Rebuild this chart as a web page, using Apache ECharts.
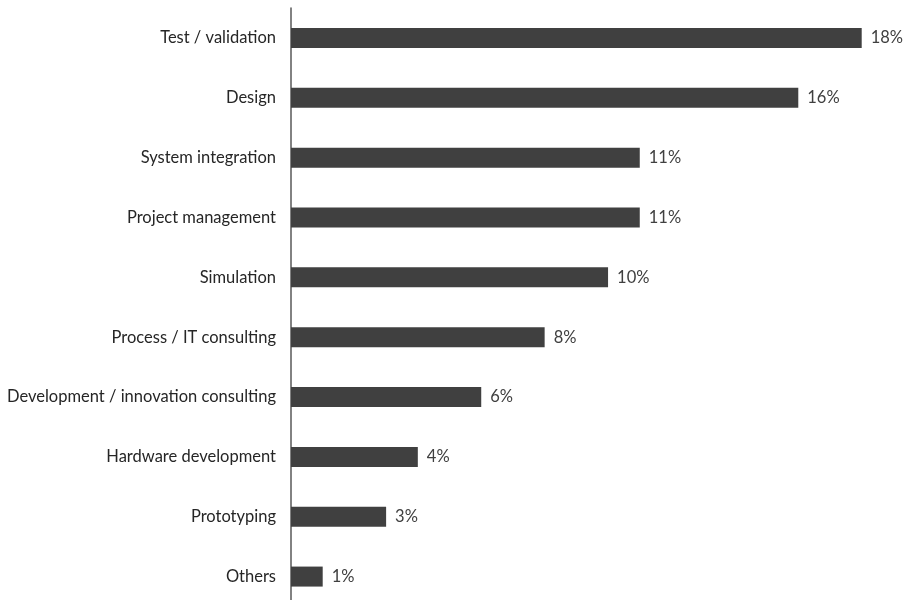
<!DOCTYPE html>
<html><head><meta charset="utf-8">
<script src="https://cdn.jsdelivr.net/npm/echarts@6/dist/echarts.min.js"></script>
<style>html,body{margin:0;padding:0;background:#fff}#c{width:903px;height:600px}</style>
</head><body><div id="c"></div>
<script>
const categories = ["Test / validation","Design","System integration","Project management","Simulation","Process / IT consulting","Development / innovation consulting","Hardware development","Prototyping","Others"];
const values = [18,16,11,11,10,8,6,4,3,1];
const chart = echarts.init(document.getElementById('c'), null, {renderer:'canvas'});
chart.setOption({
  animation:false,
  grid:{left:291, top:8, width:570.7, height:598.5, containLabel:false, outerBoundsMode:'none'},
  xAxis:{type:'value', min:0, max:18, show:false},
  yAxis:{type:'category', inverse:true, data:categories,
    axisLine:{show:true, lineStyle:{color:'#595959', width:1.5}},
    axisTick:{show:false},
    axisLabel:{color:'#262626', fontFamily:'Lato', fontSize:16.5, margin:15}},
  series:[{type:'bar', data:values, barWidth:20, itemStyle:{color:'#404040'},
    label:{show:true, position:'right', distance:9, formatter:'{c}%', color:'#404040', fontFamily:'Lato', fontSize:16.5}}]
});
</script></body></html>
